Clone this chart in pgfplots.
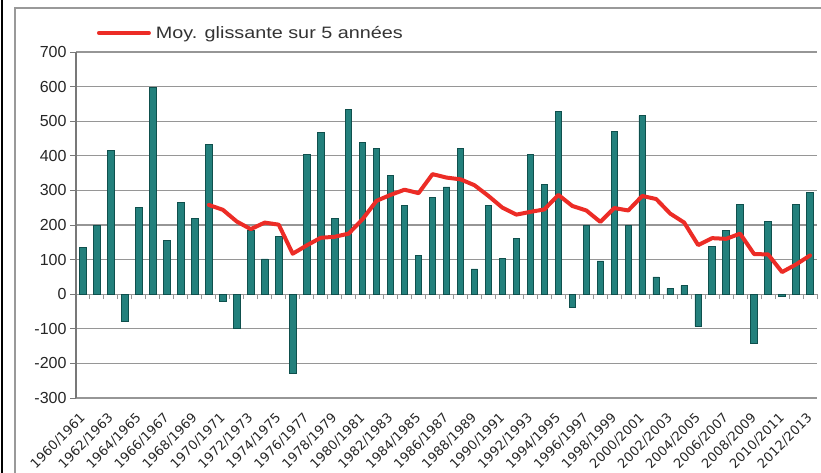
\documentclass[border=0pt]{standalone}
\usepackage{fontspec}
\setmainfont{Liberation Sans}
\newfontfamily\legfont[FakeStretch=1.2]{Liberation Sans}
\newfontfamily\xtfont{DejaVu Sans}
\usepackage{pgfplots}
\pgfplotsset{compat=1.18}
\definecolor{barfill}{RGB}{35,128,124}
\definecolor{baredge}{RGB}{15,80,77}
\definecolor{avgred}{RGB}{236,44,38}
\definecolor{gridgray}{RGB}{150,150,150}
\definecolor{axgray}{RGB}{120,120,120}
\begin{document}
\begin{tikzpicture}
\path[use as bounding box] (0,0) rectangle (821bp,473bp);
\draw[gray!80, line width=1.5bp] (15bp,0) -- (15bp,465bp) -- (821bp,465bp);
\draw[black, line width=2bp] (2bp,0) -- (2bp,473bp);
% zero line with category ticks
\begin{axis}[at={(76bp,75bp)}, anchor=south west, scale only axis,
  width=741bp, height=346bp, xmin=-0.5, xmax=52.5, ymin=-300, ymax=700,
  axis x line=middle, axis y line=none,
  xtick={-0.5,0.5,...,52.5}, xticklabels={}, tick align=outside,
  major tick length=5bp,
  x axis line style={-, draw=gridgray, line width=1.3bp},
  xtick style={draw=gridgray, line width=1bp}]
\end{axis}
\begin{axis}[at={(76bp,75bp)}, anchor=south west, scale only axis,
  width=741bp, height=346bp, xmin=-0.5, xmax=52.5, ymin=-300, ymax=700,
  axis x line*=bottom, axis y line*=left,
  x axis line style={draw=none},
  y axis line style={-, draw=axgray, line width=1.2bp},
  ytick={-300,-200,...,700}, ymajorgrids,
  grid style={draw=gridgray, line width=1.3bp},
  xtick={0,2,...,52},
  xticklabels={1960/1961,1962/1963,1964/1965,1966/1967,1968/1969,1970/1971,1972/1973,1974/1975,1976/1977,1978/1979,1980/1981,1982/1983,1984/1985,1986/1987,1988/1989,1990/1991,1992/1993,1994/1995,1996/1997,1998/1999,2000/2001,2002/2003,2004/2005,2006/2007,2008/2009,2010/2011,2012/2013},
  major x tick style={draw=none},
  tick align=outside, major tick length=6bp,
  ytick style={draw=axgray, line width=1bp},
  /pgf/number format/assume math mode=true,
  yticklabel style={font=\fontsize{16bp}{16bp}\selectfont, text=black!85},
  xticklabel style={font=\xtfont\fontsize{13bp}{13bp}\selectfont, rotate=45, anchor=east, inner sep=0pt, text=black!85},
  xticklabel shift=12bp,
  legend style={draw=none, fill=none, at={(axis description cs:0.028,1.055)}, anchor=west, inner sep=0pt,
    font=\legfont\fontsize{16.5bp}{18bp}\selectfont, text=black!80,
    nodes={inner xsep=5bp}},
  legend image code/.code={\draw[#1] (0bp,0bp) -- (50bp,0bp);},
]
\addplot[ybar, bar width=6.5bp, fill=barfill, draw=baredge, line width=0.8bp, forget plot] coordinates {
(0,135) (1,200) (2,415) (3,-80) (4,250) (5,598) (6,155) (7,265) (8,218) (9,432)
(10,-20) (11,-100) (12,185) (13,102) (14,168) (15,-228) (16,403) (17,468) (18,220) (19,533)
(20,438) (21,422) (22,343) (23,257) (24,112) (25,280) (26,310) (27,422) (28,73) (29,257)
(30,103) (31,160) (32,403) (33,316) (34,528) (35,-37) (36,200) (37,96) (38,470) (39,198)
(40,516) (41,50) (42,17) (43,25) (44,-93) (45,138) (46,185) (47,260) (48,-143) (49,210)
(50,-7) (51,260) (52,295)
};
\addplot[avgred, line width=4bp, line join=round, line cap=round] coordinates {
(9,258) (10,244) (11,210) (12,188) (13,207) (14,201) (15,117) (16,141) (17,163) (18,166)
(19,175) (20,217) (21,270) (22,287) (23,302) (24,292) (25,347) (26,337) (27,332) (28,315)
(29,284) (30,250) (31,230) (32,238) (33,245) (34,287) (35,255) (36,242) (37,209) (38,249)
(39,242) (40,284) (41,275) (42,233) (43,207) (44,142) (45,162) (46,160) (47,175) (48,116)
(49,115) (50,64) (51,86) (52,112)
};
\addlegendentry{Moy. glissante sur 5 années}
\end{axis}
\end{tikzpicture}
\end{document}
